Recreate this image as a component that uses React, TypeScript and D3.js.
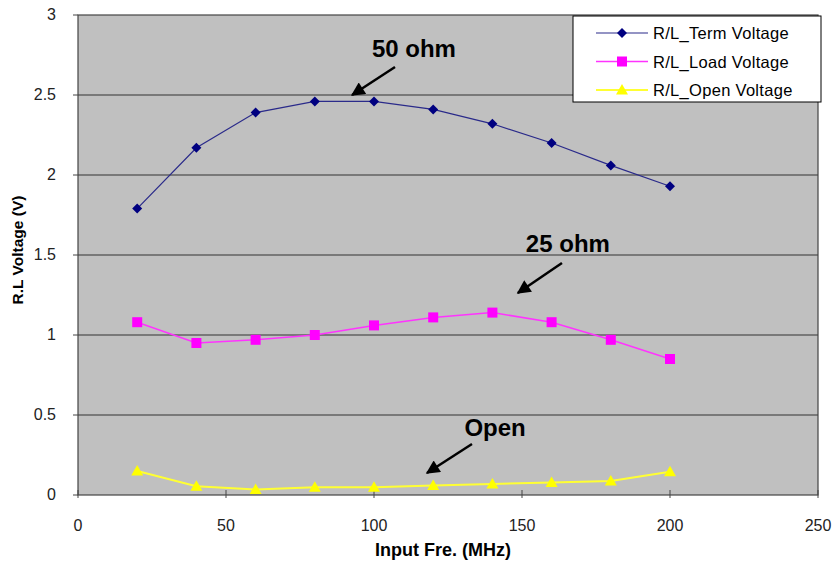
import React from "react";
import * as d3 from "d3";

const freqs = [20, 40, 60, 80, 100, 120, 140, 160, 180, 200];
const termVoltage = [1.79, 2.17, 2.39, 2.46, 2.46, 2.41, 2.32, 2.2, 2.06, 1.93];
const loadVoltage = [1.08, 0.95, 0.97, 1.0, 1.06, 1.11, 1.14, 1.08, 0.97, 0.85];
const openVoltage = [0.15, 0.055, 0.034, 0.048, 0.048, 0.059, 0.069, 0.078, 0.087, 0.145];
const xTicks = [0, 50, 100, 150, 200, 250];
const yTicks = [0, 0.5, 1, 1.5, 2, 2.5, 3];
const seriesNames = ["R/L_Term Voltage", "R/L_Load Voltage", "R/L_Open Voltage"];
const annotationTexts = ["50 ohm", "25 ohm", "Open"];
const annotationTextPos = [[113.5, 2.74], [165.5, 1.52], [140.9, 0.369]];
const annotationArrows = [
  [[107.1, 2.675], [92.6, 2.5]],
  [[163.5, 1.45], [148.6, 1.2625]],
  [[133.1, 0.319], [117.9, 0.1375]],
];

const W = 837;
const H = 564;
const L = 78, R = 818, T = 15, B = 495;

function Marker({ kind, x, y }: { kind: number; x: number; y: number }) {
  if (kind === 0) {
    const s = 5;
    return <path d={`M${x},${y - s}L${x + s},${y}L${x},${y + s}L${x - s},${y}Z`} fill="#000080" />;
  }
  if (kind === 1) {
    const s = 5;
    return <rect x={x - s} y={y - s} width={2 * s} height={2 * s} fill="#FF00FF" />;
  }
  const s = 6;
  return <path d={`M${x},${y - s}L${x + s},${y + s * 0.75}L${x - s},${y + s * 0.75}Z`} fill="#FFFF00" />;
}

export default function App() {
  const x = d3.scaleLinear().domain([0, 250]).range([L, R]);
  const y = d3.scaleLinear().domain([0, 3]).range([B, T]);
  const series = [termVoltage, loadVoltage, openVoltage];
  const lineColors = ["#2a2a8a", "#FF33FF", "#FFFF33"];
  const lineWidths = [1.2, 1.5, 2];
  const line = d3
    .line<number>()
    .x((_, i) => x(freqs[i]))
    .y((d) => y(d));

  return (
    <svg width={W} height={H} style={{ position: "absolute", left: 0, top: 0, background: "#fff" }}>
      <defs>
        <marker id="ah" viewBox="0 0 10 10" refX="9" refY="5" markerWidth="6" markerHeight="5.5" orient="auto" markerUnits="strokeWidth">
          <path d="M0,0L10,5L0,10Z" fill="#000" />
        </marker>
      </defs>
      <rect x={L} y={T} width={R - L} height={B - T} fill="#C0C0C0" />
      {yTicks.filter((t) => t > 0 && t < 3).map((t) => (
        <line key={t} x1={L} x2={R} y1={y(t)} y2={y(t)} stroke="#333" strokeWidth={1} />
      ))}
      <rect x={L} y={T} width={R - L} height={B - T} fill="none" stroke="#444" strokeWidth={1.2} />
      {yTicks.map((t) => (
        <g key={t}>
          <line x1={L - 5} x2={L} y1={y(t)} y2={y(t)} stroke="#444" />
          <text x={L - 22} y={y(t) + 5} textAnchor="end" fontFamily="Liberation Sans, Arial, sans-serif" fontSize={16} fill="#222">
            {String(t)}
          </text>
        </g>
      ))}
      {xTicks.map((t) => (
        <g key={t}>
          <line x1={x(t)} x2={x(t)} y1={B - 5} y2={B + 3} stroke="#444" />
          <text x={x(t)} y={531} textAnchor="middle" fontFamily="Liberation Sans, Arial, sans-serif" fontSize={16} fill="#222">
            {String(t)}
          </text>
        </g>
      ))}
      <text
        transform={`translate(23,250) rotate(-90)`}
        textAnchor="middle"
        fontFamily="Liberation Sans, Arial, sans-serif"
        fontWeight="bold"
        fontSize={15.5}
        fill="#000"
      >
        R.L Voltage (V)
      </text>
      <text x={443} y={556} textAnchor="middle" fontFamily="Liberation Sans Narrow, Liberation Sans, Arial, sans-serif" fontWeight="bold" fontSize={18} fill="#000">
        Input Fre. (MHz)
      </text>
      {series.map((s, k) => (
        <g key={k}>
          <path d={line(s) || ""} fill="none" stroke={lineColors[k]} strokeWidth={lineWidths[k]} />
          {s.map((v, i) => (
            <Marker key={i} kind={k} x={x(freqs[i])} y={y(v)} />
          ))}
        </g>
      ))}
      {annotationTexts.map((t, i) => (
        <g key={t}>
          <text
            x={x(annotationTextPos[i][0])}
            y={y(annotationTextPos[i][1])}
            textAnchor="middle"
            fontFamily="Liberation Sans, Arial, sans-serif"
            fontWeight="bold"
            fontSize={24}
            fill="#000"
          >
            {t}
          </text>
          <line
            x1={x(annotationArrows[i][0][0])}
            y1={y(annotationArrows[i][0][1])}
            x2={x(annotationArrows[i][1][0])}
            y2={y(annotationArrows[i][1][1])}
            stroke="#000"
            strokeWidth={2.5}
            markerEnd="url(#ah)"
          />
        </g>
      ))}
      <g>
        <rect x={573} y={16} width={248} height={86} fill="#fff" stroke="#000" strokeWidth={1} />
        {seriesNames.map((n, k) => {
          const ry = 33 + k * 28.5;
          return (
            <g key={n}>
              <line x1={596} x2={648} y1={ry} y2={ry} stroke={lineColors[k]} strokeWidth={lineWidths[k]} />
              <Marker kind={k} x={622} y={ry} />
              <text x={653} y={ry + 6} fontFamily="Liberation Sans, Arial, sans-serif" fontSize={16.5} letterSpacing={0.3} fill="#000">
                {n}
              </text>
            </g>
          );
        })}
      </g>
    </svg>
  );
}
